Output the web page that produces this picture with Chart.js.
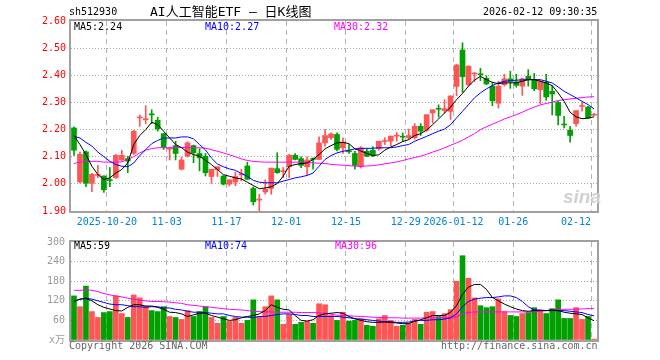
<!DOCTYPE html>
<html>
<head>
<meta charset="utf-8">
<script src="https://cdn.jsdelivr.net/npm/chart.js@4.4.1/dist/chart.umd.min.js"></script>
<style>
  html, body { margin: 0; padding: 0; background: #fff; }
  #wrap { position: relative; width: 660px; height: 360px; overflow: hidden;
          font-family: "DejaVu Sans Mono", "Noto Sans CJK SC", monospace; font-size: 10px; }
  canvas { position: absolute; left: 0; }
  .t { position: absolute; white-space: pre; line-height: 12px; }
</style>
</head>
<body>
<div id="wrap">
  <canvas id="kline" width="660" height="235" style="top:0"></canvas>
  <canvas id="vol" width="660" height="130" style="top:230px"></canvas>

  <div class="t" style="left:69px;top:6px;color:#000">sh512930</div>
  <div class="t" style="left:150px;top:4px;font-size:13px;line-height:15px;color:#000">AI人工智能ETF — 日K线图</div>
  <div class="t" style="left:483px;top:6px;color:#000">2026-02-12 09:30:35</div>

  <div class="t" style="left:74px;top:21px;color:#000">MA5:2.24</div>
  <div class="t" style="left:205px;top:21px;color:#0000ff">MA10:2.27</div>
  <div class="t" style="left:334px;top:21px;color:#ff00ff">MA30:2.32</div>

  <div class="t" style="left:563px;top:186px;font:italic bold 19px 'Liberation Sans';color:#d0d0d0">sina</div>

  <div class="t" style="left:74px;top:240px;color:#000">MA5:59</div>
  <div class="t" style="left:205px;top:240px;color:#0000ff">MA10:74</div>
  <div class="t" style="left:335px;top:240px;color:#ff00ff">MA30:96</div>

  <div class="t" style="left:69px;top:340px;color:#666">Copyright 2026 SINA.COM</div>
  <div class="t" style="left:441px;top:340px;color:#666">http://finance.sina.com.cn</div>
</div>

<script>
// 交易日
const dates = [
  '2025-10-10','2025-10-13','2025-10-14','2025-10-15','2025-10-16','2025-10-17',
  '2025-10-20','2025-10-21','2025-10-22','2025-10-23','2025-10-24',
  '2025-10-27','2025-10-28','2025-10-29','2025-10-30','2025-10-31',
  '2025-11-03','2025-11-04','2025-11-05','2025-11-06','2025-11-07',
  '2025-11-10','2025-11-11','2025-11-12','2025-11-13','2025-11-14',
  '2025-11-17','2025-11-18','2025-11-19','2025-11-20','2025-11-21',
  '2025-11-24','2025-11-25','2025-11-26','2025-11-27','2025-11-28',
  '2025-12-01','2025-12-02','2025-12-03','2025-12-04','2025-12-05',
  '2025-12-08','2025-12-09','2025-12-10','2025-12-11','2025-12-12',
  '2025-12-15','2025-12-16','2025-12-17','2025-12-18','2025-12-19',
  '2025-12-22','2025-12-23','2025-12-24','2025-12-25','2025-12-26',
  '2025-12-29','2025-12-30','2025-12-31',
  '2026-01-05','2026-01-06','2026-01-07','2026-01-08','2026-01-09',
  '2026-01-12','2026-01-13','2026-01-14','2026-01-15','2026-01-16',
  '2026-01-19','2026-01-20','2026-01-21','2026-01-22','2026-01-23',
  '2026-01-26','2026-01-27','2026-01-28','2026-01-29','2026-01-30',
  '2026-02-02','2026-02-03','2026-02-04','2026-02-05','2026-02-06',
  '2026-02-09','2026-02-10','2026-02-11','2026-02-12'
];

const axisDates = ['2025-10-20','2025-11-03','2025-11-17','2025-12-01','2025-12-15',
                   '2025-12-29','2026-01-12','2026-01-26','2026-02-12'];
const axisText  = ['2025-10-20','11-03','11-17','12-01','12-15',
                   '12-29','2026-01-12','01-26','02-12'];

const opens = [2.206,2.007,2.118,2.002,2.031,2.029,2.015,2.023,2.088,2.093,
  2.112,2.243,2.236,2.258,2.234,2.185,2.128,2.141,2.054,2.102,
  2.141,2.112,2.102,2.027,2.052,2.029,1.999,2.007,2.033,2.066,
  1.983,1.940,1.970,1.983,2.056,2.045,2.063,2.105,2.093,2.063,
  2.093,2.090,2.151,2.170,2.182,2.133,2.122,2.112,2.063,2.120,
  2.124,2.129,2.156,2.157,2.176,2.175,2.170,2.170,2.212,2.198,
  2.261,2.277,2.270,2.267,2.359,2.493,2.365,2.405,2.405,2.389,
  2.360,2.297,2.365,2.387,2.376,2.360,2.396,2.383,2.347,2.374,
  2.341,2.300,2.219,2.198,2.222,2.285,2.283,2.253];
const highs = [2.210,2.117,2.122,2.039,2.068,2.030,2.060,2.109,2.124,2.102,
  2.197,2.254,2.288,2.273,2.246,2.186,2.133,2.157,2.099,2.155,
  2.143,2.129,2.112,2.054,2.063,2.030,2.015,2.044,2.054,2.080,
  1.989,1.962,2.015,2.058,2.115,2.060,2.109,2.112,2.100,2.100,
  2.096,2.173,2.200,2.188,2.188,2.170,2.145,2.120,2.137,2.129,
  2.137,2.157,2.170,2.176,2.190,2.188,2.202,2.222,2.222,2.255,
  2.273,2.291,2.310,2.324,2.441,2.520,2.434,2.410,2.426,2.398,
  2.373,2.378,2.404,2.415,2.404,2.390,2.421,2.407,2.382,2.404,
  2.362,2.304,2.249,2.212,2.270,2.300,2.286,2.260];
const lows = [2.105,2.003,1.990,1.971,2.023,1.968,1.990,2.020,2.084,2.041,
  2.108,2.212,2.222,2.222,2.194,2.127,2.088,2.088,2.051,2.099,
  2.078,2.048,2.029,2.002,2.027,1.996,1.992,1.993,2.011,2.017,
  1.922,1.900,1.962,1.962,2.039,2.023,2.023,2.088,2.060,2.033,
  2.054,2.090,2.139,2.163,2.121,2.112,2.112,2.054,2.059,2.100,
  2.100,2.124,2.145,2.141,2.157,2.157,2.164,2.165,2.178,2.194,
  2.224,2.246,2.261,2.237,2.324,2.337,2.361,2.377,2.380,2.365,
  2.288,2.279,2.360,2.352,2.356,2.326,2.360,2.343,2.296,2.308,
  2.254,2.217,2.206,2.154,2.212,2.268,2.242,2.250];
const closes = [2.124,2.109,2.002,2.035,2.034,1.978,2.012,2.105,2.105,2.084,
  2.194,2.246,2.240,2.254,2.202,2.135,2.132,2.112,2.088,2.151,
  2.115,2.096,2.041,2.054,2.063,1.999,2.015,2.027,2.037,2.017,
  1.934,1.944,1.980,2.058,2.041,2.048,2.105,2.090,2.068,2.088,
  2.090,2.151,2.178,2.184,2.127,2.154,2.118,2.068,2.133,2.102,
  2.105,2.157,2.159,2.176,2.179,2.172,2.178,2.212,2.194,2.255,
  2.273,2.275,2.277,2.324,2.438,2.395,2.434,2.408,2.402,2.368,
  2.306,2.360,2.387,2.377,2.363,2.387,2.383,2.350,2.378,2.320,
  2.331,2.252,2.217,2.178,2.270,2.287,2.243,2.256];

// 均线
const ma5 = [2.178,2.145,2.108,2.065,2.034,2.016,2.022,2.040,2.053,2.077,
  2.145,2.178,2.200,2.227,2.218,2.194,2.169,2.145,2.133,2.117,
  2.108,2.102,2.087,2.071,2.053,2.034,2.028,2.022,2.018,2.006,
  1.994,1.982,1.985,1.989,2.001,2.028,2.065,2.071,2.075,2.077,
  2.090,2.108,2.129,2.141,2.151,2.153,2.148,2.129,2.121,2.112,
  2.104,2.107,2.124,2.136,2.145,2.156,2.163,2.178,2.185,2.198,
  2.218,2.239,2.261,2.283,2.310,2.333,2.360,2.382,2.396,2.384,
  2.374,2.369,2.372,2.372,2.372,2.378,2.384,2.384,2.378,2.372,
  2.362,2.335,2.304,2.264,2.247,2.240,2.242,2.247];
const ma10 = [2.175,2.169,2.153,2.139,2.117,2.100,2.083,2.071,2.065,2.063,
  2.077,2.104,2.126,2.148,2.160,2.169,2.169,2.169,2.173,2.173,
  2.166,2.145,2.125,2.095,2.073,2.063,2.055,2.050,2.038,2.028,
  2.013,2.006,2.004,2.004,2.004,2.010,2.016,2.022,2.026,2.031,
  2.040,2.065,2.090,2.104,2.114,2.120,2.124,2.129,2.130,2.131,
  2.131,2.133,2.133,2.133,2.136,2.141,2.145,2.157,2.166,2.175,
  2.185,2.194,2.202,2.218,2.243,2.267,2.292,2.317,2.335,2.350,
  2.362,2.372,2.378,2.380,2.382,2.383,2.384,2.384,2.384,2.378,
  2.372,2.357,2.341,2.329,2.317,2.304,2.292,2.276];
const ma30 = [2.075,2.080,2.083,2.083,2.083,2.080,2.080,2.080,2.081,2.090,
  2.100,2.114,2.124,2.130,2.133,2.133,2.133,2.134,2.134,2.134,
  2.133,2.133,2.131,2.126,2.120,2.114,2.107,2.100,2.092,2.086,
  2.083,2.081,2.080,2.080,2.080,2.080,2.080,2.080,2.080,2.079,
  2.077,2.076,2.075,2.072,2.070,2.069,2.067,2.065,2.065,2.066,
  2.067,2.070,2.074,2.077,2.081,2.086,2.092,2.097,2.102,2.109,
  2.117,2.124,2.133,2.142,2.151,2.161,2.173,2.185,2.200,2.210,
  2.220,2.229,2.239,2.247,2.255,2.264,2.274,2.283,2.291,2.296,
  2.301,2.307,2.310,2.313,2.315,2.318,2.320,2.321];

// 成交量(万手)
const volumes = [135,102,165,87,69,84,87,135,81,69,
  138,129,103,90,87,102,72,69,63,90,
  72,87,102,69,51,72,57,69,51,60,
  123,72,102,135,123,48,78,48,54,57,
  51,111,108,75,60,85,58,60,65,45,
  42,65,75,60,42,45,52,63,48,85,
  87,72,81,93,180,258,189,129,105,99,
  102,126,87,75,72,81,84,99,90,81,
  96,123,66,66,99,63,72,3];
const volMa5 = [118,125,127,120,108,100,95,90,89,100,
  108,108,104,104,100,94,85,84,80,72,
  77,82,82,75,70,65,60,62,68,72,
  75,80,90,108,100,94,92,75,60,58,
  62,75,80,82,84,82,72,65,60,56,
  54,54,55,54,52,50,50,58,62,68,
  75,75,75,85,105,140,162,170,170,155,
  130,120,110,102,95,90,88,90,90,90,
  92,90,85,82,80,78,68,59];
const volMa10 = [118,125,128,125,120,115,110,108,108,105,
  102,102,100,102,102,98,98,94,92,88,
  85,85,84,82,80,80,75,72,70,70,
  68,72,72,75,78,80,80,78,75,75,
  72,72,72,72,72,70,68,65,64,62,
  60,58,56,56,54,54,55,58,60,60,
  62,62,64,68,80,102,118,125,128,130,
  130,132,135,135,130,118,102,92,92,90,
  90,90,90,88,86,84,78,74];
const volMa30 = [152,152,154,152,148,142,138,135,132,128,
  125,122,120,118,118,117,116,114,112,108,
  106,104,102,100,98,96,94,93,92,90,
  88,87,86,86,85,85,85,85,84,84,
  84,83,82,79,76,75,74,73,72,71,
  70,69,68,68,68,67,67,67,67,68,
  68,68,68,68,72,80,84,86,86,86,
  86,86,86,86,86,86,86,86,88,90,
  92,94,94,94,94,95,96,96];

const upColor = '#ff5555', downColor = '#00a000';
const monoFont = '"DejaVu Sans Mono", "Noto Sans CJK SC", monospace';
const candleColors = closes.map((c, i) => c >= opens[i] ? upColor : downColor);
const gridIdx = axisDates.map(d => dates.indexOf(d));

function tickLabel(i) {
  const k = gridIdx.indexOf(i);
  if (k < 0) return '';
  // 最后一个标签靠左,不出边框
  return i === dates.length - 1 ? axisText[k] + '     ' : axisText[k];
}

const framePlugin = {
  id: 'frame',
  afterDraw(chart) {
    const { ctx, chartArea: a } = chart;
    ctx.save();
    ctx.strokeStyle = '#a0a0a0';
    ctx.lineWidth = 2;
    ctx.strokeRect(a.left - 1, a.top - 1, a.right - a.left + 2, a.bottom - a.top + 2);
    ctx.restore();
  }
};

const xGrid = {
  offset: true, drawTicks: false, lineWidth: 1,
  color: c => gridIdx.includes(c.index) ? '#b4b4b4' : 'rgba(0,0,0,0)'
};

function line(label, data, color) {
  return { type: 'line', label, data, borderColor: color, borderWidth: 1,
           pointRadius: 0, fill: false, tension: 0, order: 0 };
}

const baseOpts = {
  responsive: false, animation: false, events: [],
  plugins: { legend: { display: false }, tooltip: { enabled: false } }
};

// K线
new Chart(document.getElementById('kline'), {
  type: 'bar',
  data: {
    labels: dates,
    datasets: [
      line('MA5', ma5, '#000000'),
      line('MA10', ma10, '#0000ff'),
      line('MA30', ma30, '#ff00ff'),
      { label: 'body', data: opens.map((o, i) => [o, closes[i]]), backgroundColor: candleColors,
        barThickness: 5, minBarLength: 1, grouped: false, order: 1 },
      { label: 'wick', data: lows.map((l, i) => [l, highs[i]]), backgroundColor: candleColors,
        barThickness: 1, grouped: false, order: 2 }
    ]
  },
  options: {
    ...baseOpts,
    layout: { padding: { left: 0, right: 63, top: 21, bottom: 0 } },
    scales: {
      x: {
        offset: true,
        grid: xGrid,
        border: { display: false, dash: [5, 4] },
        ticks: { autoSkip: false, maxRotation: 0, minRotation: 0, padding: 5, labelOffset: -3,
                 color: '#0084d0', font: { family: monoFont, size: 10 },
                 callback: (v, i) => tickLabel(i) },
        afterFit: s => { s.height = 24; }
      },
      y: {
        min: 1.9, max: 2.6,
        grid: { drawTicks: false,
                color: c => (c.tick && c.tick.value > 1.91 && c.tick.value < 2.59) ? '#a8a8a8' : 'rgba(0,0,0,0)' },
        border: { display: false, dash: [1, 2] },
        ticks: { stepSize: 0.1, padding: 5, color: '#ff0000', font: { family: monoFont, size: 10 },
                 callback: v => v.toFixed(2) },
        afterFit: s => { s.width = 71; }
      }
    }
  },
  plugins: [framePlugin]
});

// 成交量
new Chart(document.getElementById('vol'), {
  type: 'bar',
  data: {
    labels: dates,
    datasets: [
      line('MA5', volMa5, '#000000'),
      line('MA10', volMa10, '#0000ff'),
      line('MA30', volMa30, '#ff00ff'),
      { label: 'vol', data: volumes, backgroundColor: candleColors,
        barThickness: 5, grouped: false, order: 1 }
    ]
  },
  options: {
    ...baseOpts,
    layout: { padding: { left: 0, right: 63, top: 10, bottom: 0 } },
    scales: {
      x: {
        offset: true,
        grid: xGrid,
        border: { display: false, dash: [5, 4] },
        ticks: { display: false },
        afterFit: s => { s.height = 20; }
      },
      y: {
        min: 0, max: 300,
        grid: { drawTicks: false,
                color: c => (c.tick && c.tick.value > 0 && c.tick.value < 300) ? '#a8a8a8' : 'rgba(0,0,0,0)' },
        border: { display: false, dash: [1, 2] },
        ticks: { stepSize: 60, padding: 6, color: '#9a9a9a', font: { family: monoFont, size: 10 },
                 callback: v => v === 0 ? 'x万' : String(v) },
        afterFit: s => { s.width = 71; }
      }
    }
  },
  plugins: [framePlugin]
});
</script>
</body>
</html>
